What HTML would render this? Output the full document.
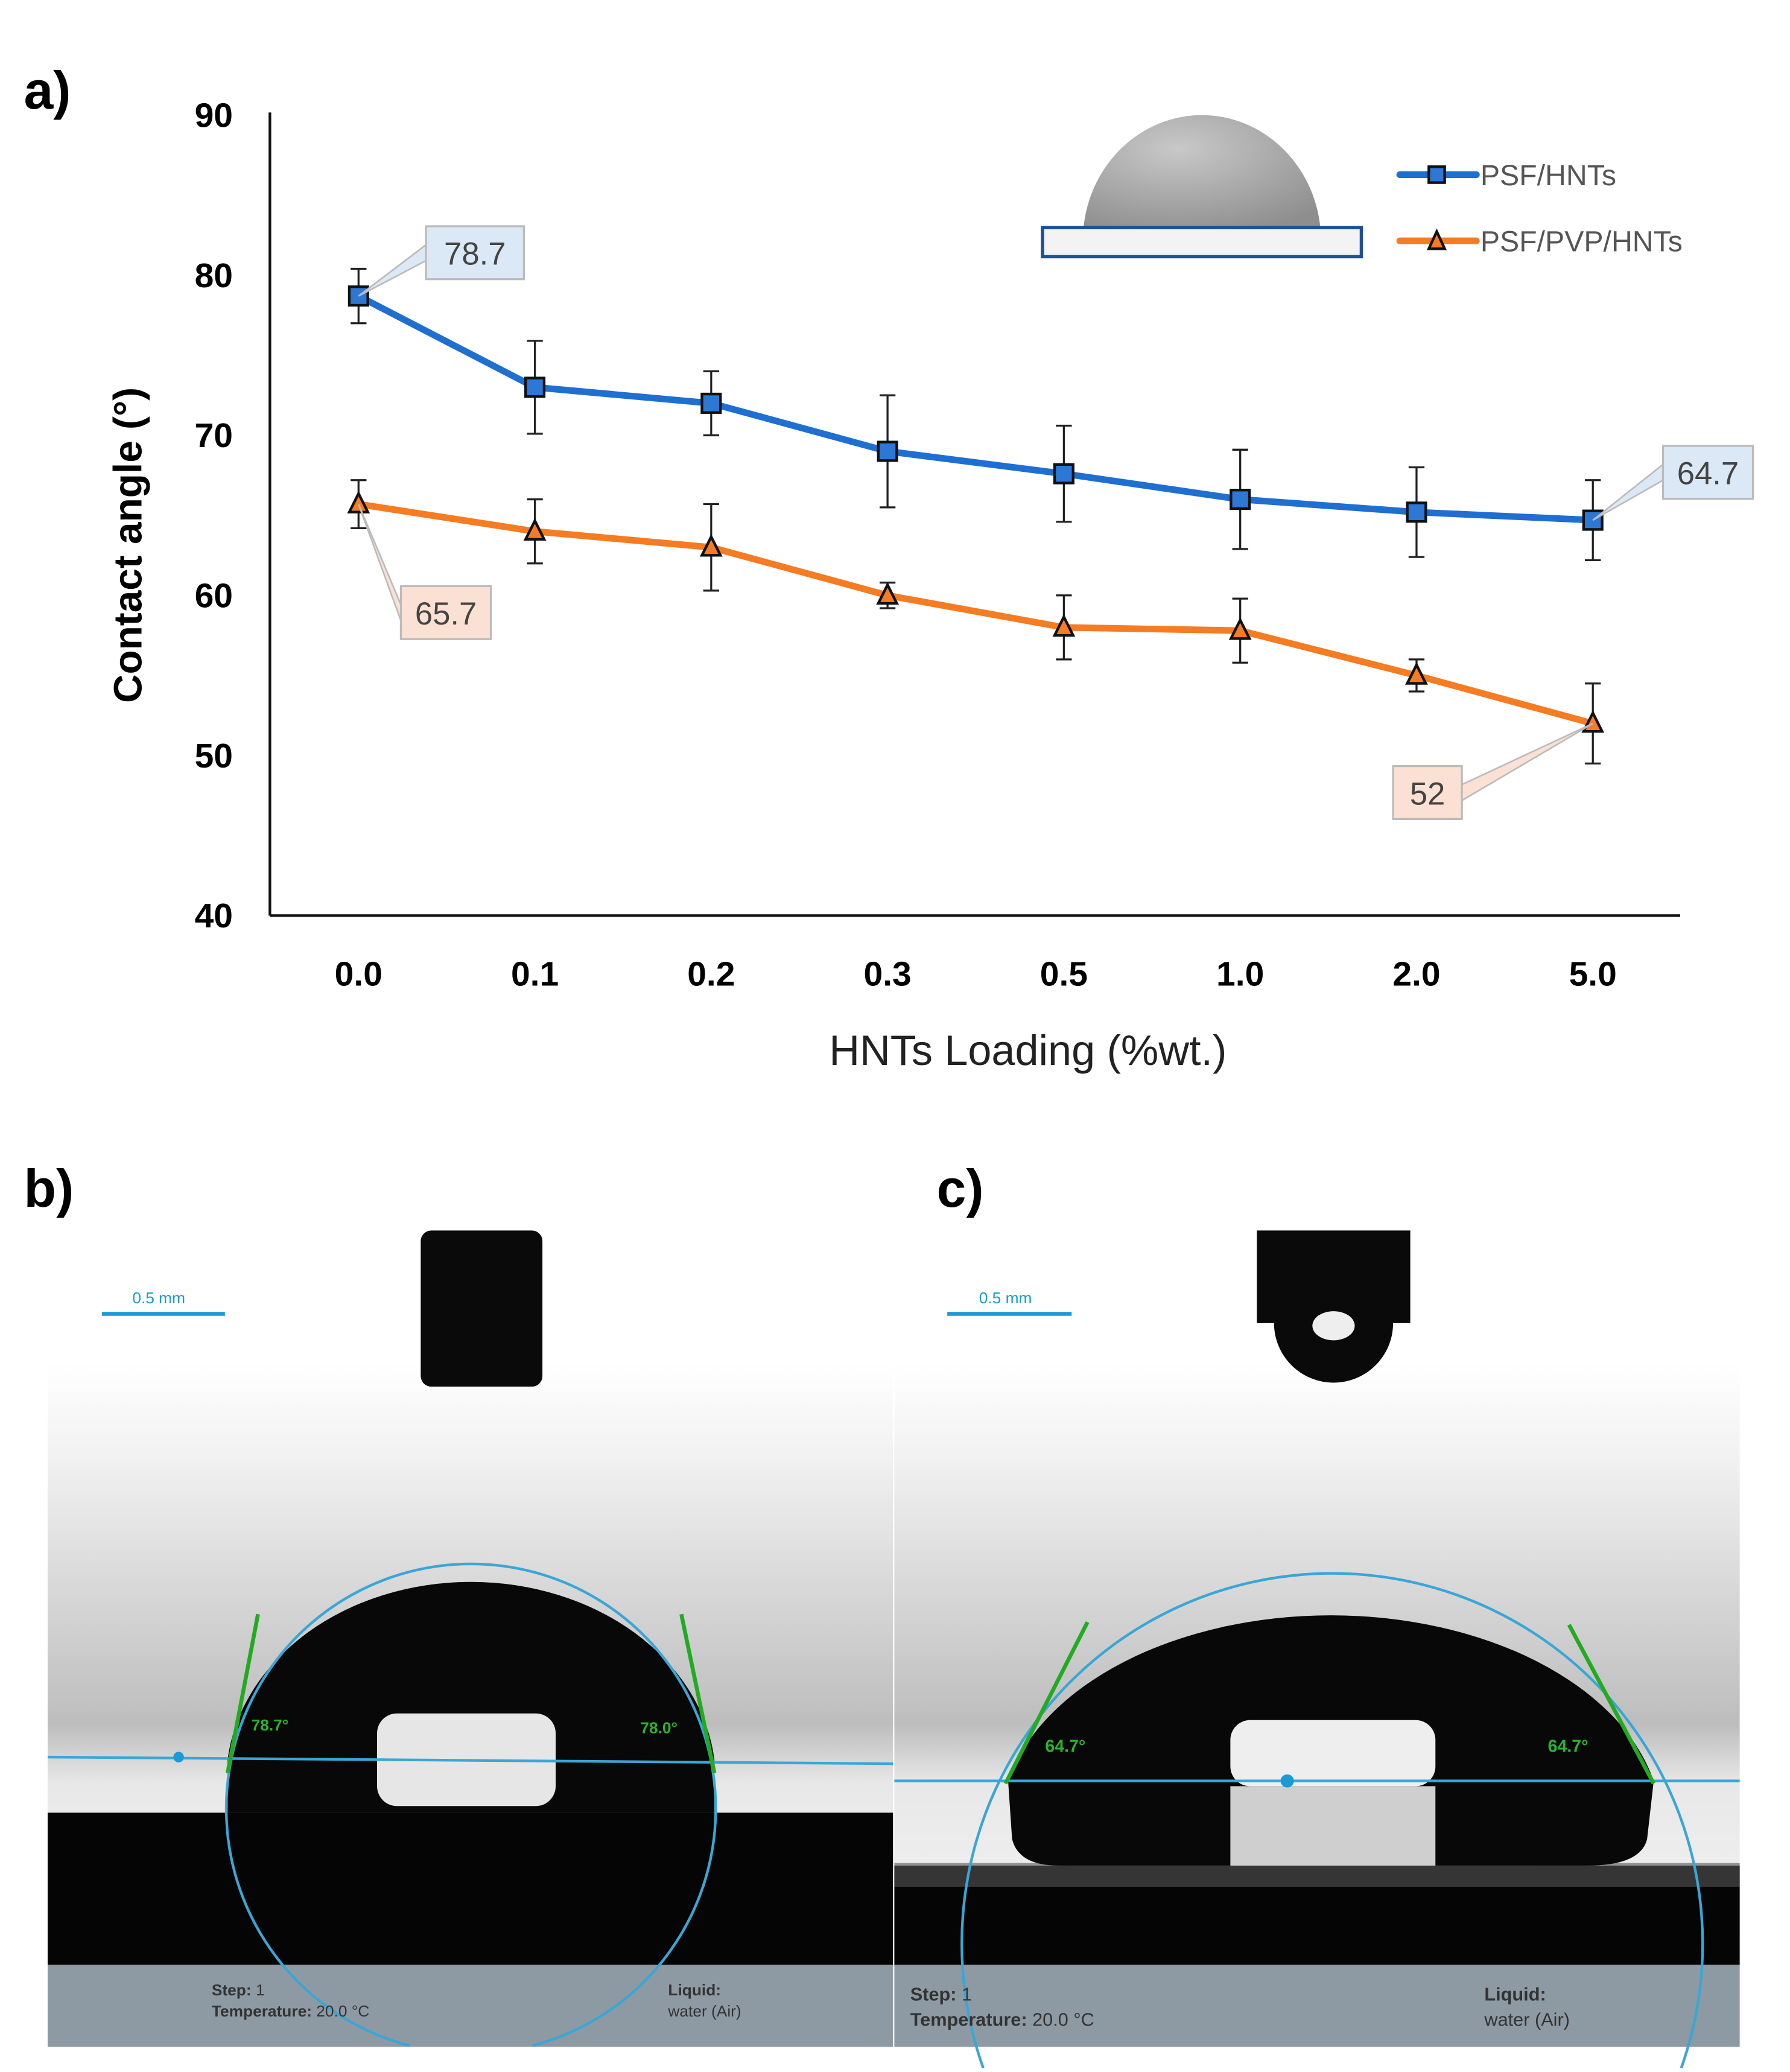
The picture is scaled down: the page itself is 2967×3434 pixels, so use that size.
<!DOCTYPE html>
<html><head><meta charset="utf-8">
<style>
html,body{margin:0;padding:0;background:#fff;overflow:hidden;width:2967px;height:3434px}
svg{display:block}
text{font-family:"Liberation Sans","DejaVu Sans",sans-serif}
</style></head>
<body>
<svg id="fig" width="2967" height="3434" viewBox="0 0 1353 1566" xmlns="http://www.w3.org/2000/svg" overflow="hidden">
<defs>
<linearGradient id="bgB" x1="0" y1="0" x2="0" y2="1">
<stop offset="0" stop-color="#fff"/><stop offset="0.15" stop-color="#f2f2f2"/><stop offset="0.45" stop-color="#cfcfcf"/><stop offset="0.6" stop-color="#bdbdbd"/><stop offset="0.7" stop-color="#e8e8e8"/><stop offset="1" stop-color="#f4f4f4"/>
</linearGradient>
<radialGradient id="drop" cx="0.4" cy="0.3" r="0.8"><stop offset="0" stop-color="#c8c8c8"/><stop offset="1" stop-color="#8e8e8e"/></radialGradient>
</defs>
<g>
<text x="18" y="82" font-size="40" font-weight="bold">a)</text>
<g id="axes"></g>
<g>
<path d="M819 172 A90 95 0 0 1 998 172 Z" fill="url(#drop)"/>
<rect x="788" y="172" width="241" height="22" fill="#f3f3f3" stroke="#1f4e99" stroke-width="2.5"/>
</g>
<g>
<g>
<line x1="1058" y1="132" x2="1116" y2="132" stroke="#1f6fd0" stroke-width="5" stroke-linecap="round"/>
<rect x="1080" y="126" width="12" height="12" fill="#2c78d4" stroke="#111" stroke-width="2"/>
<text x="1119" y="140" font-size="22" fill="#555">PSF/HNTs</text>
</g>
<g>
<line x1="1058" y1="182" x2="1116" y2="182" stroke="#f57c22" stroke-width="5" stroke-linecap="round"/>
<path d="M1086 175 L1092 188 L1080 188 Z" fill="#f57c22" stroke="#111" stroke-width="2"/>
<text x="1119" y="190" font-size="22" fill="#555">PSF/PVP/HNTs</text>
</g>
</g>
</g>
<text x="18" y="912" font-size="40" font-weight="bold">b)</text>
<g>
<rect x="36" y="1030" width="639" height="455" fill="url(#bgB)"/>
<rect x="36" y="1370" width="639" height="115" fill="#050505"/>
<rect x="36" y="1485" width="639" height="62" fill="#8e9aa3"/>
<rect x="318" y="930" width="92" height="118" rx="8" fill="#0a0a0a"/>
<path d="M172 1370 L172 1330 A185 150 0 0 1 540 1330 L540 1370 Z" fill="#080808"/>
<rect x="285" y="1295" width="135" height="70" rx="15" fill="#e6e6e6"/>
<path d="M309.3 1546 A185 185 0 1 1 402.7 1546" fill="none" stroke="#3aa6d6" stroke-width="2"/>
<line x1="36" y1="1328" x2="675" y2="1333" stroke="#3aa6d6" stroke-width="2"/>
<circle cx="135" cy="1328" r="4" fill="#1a9ad6"/>
<line x1="172" y1="1340" x2="195" y2="1220" stroke="#22aa22" stroke-width="3"/>
<line x1="540" y1="1340" x2="515" y2="1220" stroke="#22aa22" stroke-width="3"/>
<text x="190" y="1308" font-size="12" fill="#2bb52b" font-weight="bold">78.7°</text>
<text x="484" y="1310" font-size="12" fill="#2bb52b" font-weight="bold">78.0°</text>
<line x1="77" y1="993" x2="170" y2="993" stroke="#1a9ad6" stroke-width="3"/>
<text x="100" y="985" font-size="12" fill="#1a9ad6">0.5 mm</text>
<text x="160" y="1508" font-size="12" fill="#333" font-weight="bold">Step: <tspan font-weight="normal">1</tspan></text>
<text x="160" y="1524" font-size="12" fill="#333" font-weight="bold">Temperature: <tspan font-weight="normal">20.0 °C</tspan></text>
<text x="505" y="1508" font-size="12" fill="#333" font-weight="bold">Liquid:</text>
<text x="505" y="1524" font-size="12" fill="#333">water (Air)</text>
</g>
<text x="708" y="912" font-size="40" font-weight="bold">c)</text>
<g>
<rect x="676" y="1030" width="639" height="455" fill="url(#bgB)"/>
<rect x="676" y="1410" width="639" height="75" fill="#050505"/>
<rect x="676" y="1485" width="639" height="62" fill="#8e9aa3"/>
<rect x="676" y="1408" width="639" height="18" fill="#555" opacity="0.6"/>
<rect x="950" y="930" width="116" height="70" fill="#0a0a0a"/>
<circle cx="1008" cy="1000" r="45" fill="#0a0a0a"/>
<ellipse cx="1008" cy="1002" rx="16" ry="11" fill="#eee"/>
<path d="M762 1346 A250 160 0 0 1 1250 1346 L1245 1390 Q1240 1410 1200 1410 L800 1410 Q770 1410 765 1390 Z" fill="#080808"/>
<rect x="930" y="1300" width="155" height="50" rx="15" fill="#eeeeee"/>
<rect x="930" y="1350" width="155" height="60" fill="#cfcfcf"/>
<path d="M743.2 1563 A280 280 0 1 1 1270.8 1563" fill="none" stroke="#3aa6d6" stroke-width="2"/>
<line x1="676" y1="1346" x2="1315" y2="1346" stroke="#3aa6d6" stroke-width="2"/>
<circle cx="973" cy="1346" r="5" fill="#1a9ad6"/>
<line x1="760" y1="1348" x2="822" y2="1226" stroke="#22aa22" stroke-width="3"/>
<line x1="1250" y1="1348" x2="1186" y2="1228" stroke="#22aa22" stroke-width="3"/>
<text x="790" y="1324" font-size="13" fill="#2bb52b" font-weight="bold">64.7°</text>
<text x="1170" y="1324" font-size="13" fill="#2bb52b" font-weight="bold">64.7°</text>
<line x1="716" y1="993" x2="810" y2="993" stroke="#1a9ad6" stroke-width="3"/>
<text x="740" y="985" font-size="12" fill="#1a9ad6">0.5 mm</text>
<text x="688" y="1512" font-size="14" fill="#333" font-weight="bold">Step: <tspan font-weight="normal">1</tspan></text>
<text x="688" y="1531" font-size="14" fill="#333" font-weight="bold">Temperature: <tspan font-weight="normal">20.0 °C</tspan></text>
<text x="1122" y="1512" font-size="14" fill="#333" font-weight="bold">Liquid:</text>
<text x="1122" y="1531" font-size="14" fill="#333">water (Air)</text>
</g>
</svg>
<script>
const categories = ["0.0","0.1","0.2","0.3","0.5","1.0","2.0","5.0"];
const psfHnts = [78.7,73,72,69,67.6,66,65.2,64.7];
const psfHntsErr = [1.7,2.9,2,3.5,3,3.1,2.8,2.5];
const psfPvpHnts = [65.7,64,63,60,58,57.8,55,52];
const psfPvpHntsErr = [1.5,2,2.7,0.8,2,2,1,2.5];
const yTicks = [40,50,60,70,80,90];

const NS="http://www.w3.org/2000/svg";
const g=document.getElementById('axes');
const X0=204,X1=1270,Y0=692,Y1=87;
const xPos=i=>271+i*(1204-271)/(categories.length-1);
const yPos=v=>Y0-(v-40)/(90-40)*(Y0-Y1);
function mk(tag,attrs,parent){const e=document.createElementNS(NS,tag);for(const k in attrs)e.setAttribute(k,attrs[k]);(parent||g).appendChild(e);return e;}
let a=mk('line',{x1:X0,y1:Y1-2,x2:X0,y2:Y0,stroke:'#111','stroke-width':2});


a=mk('line',{x1:X0,y1:Y0,x2:X1,y2:Y0,stroke:'#111','stroke-width':2});


yTicks.forEach(v=>{const t=mk('text',{x:176,y:yPos(v)+9,'font-size':26,'font-weight':'bold','text-anchor':'end'});t.textContent=v;

});
categories.forEach((c,i)=>{const t=mk('text',{x:xPos(i),y:745,'font-size':26,'font-weight':'bold','text-anchor':'middle'});t.textContent=c;

});
let t=mk('text',{x:777,y:805,'font-size':32,'text-anchor':'middle',fill:'#222'});t.textContent='HNTs Loading (%wt.)';


t=mk('text',{x:0,y:0,'font-size':30,'font-weight':'bold','text-anchor':'middle',transform:'translate(107,412) rotate(-90)'});t.textContent='Contact angle (°)';



function series(vals,errs,color,shape,name){
  const sg=mk('g',{});
  
  
  vals.forEach((v,i)=>{
    const hi=yPos(v+errs[i]),lo=yPos(v-errs[i]),x=xPos(i);
    mk('line',{x1:x,y1:hi,x2:x,y2:lo,stroke:'#222','stroke-width':1.5},sg);
    mk('line',{x1:x-6,y1:hi,x2:x+6,y2:hi,stroke:'#222','stroke-width':1.5},sg);
    mk('line',{x1:x-6,y1:lo,x2:x+6,y2:lo,stroke:'#222','stroke-width':1.5},sg);
  });
  mk('polyline',{points:vals.map((v,i)=>xPos(i)+','+yPos(v)).join(' '),fill:'none',stroke:color,'stroke-width':5,'stroke-linejoin':'round'},sg);
  vals.forEach((v,i)=>{
    const x=xPos(i),y=yPos(v);let m;
    if(shape==='sq')m=mk('rect',{x:x-7,y:y-7,width:14,height:14,fill:'#2c78d4',stroke:'#111','stroke-width':2},sg);
    else m=mk('path',{d:`M${x} ${y-8} L${x+7} ${y+6} L${x-7} ${y+6} Z`,fill:'#f57c22',stroke:'#111','stroke-width':2},sg);
    
    
  });
}
series(psfHnts,psfHntsErr,'#1f6fd0','sq','series-psf-hnts');
series(psfPvpHnts,psfPvpHntsErr,'#f57c22','tri','series-psf-pvp-hnts');

function callout(i,v,bx,by,w,fill,stroke,label){
  const cg=mk('g',{});
  
  
  const x=xPos(i),y=yPos(v);
  mk('path',{d:`M${x} ${y} L${bx+(bx>x?0:w)} ${by+14} L${bx+(bx>x?0:w)} ${by+26} Z`,fill:fill,stroke:stroke,'stroke-width':1.2},cg);
  mk('rect',{x:bx,y:by,width:w,height:40,fill:fill,stroke:stroke,'stroke-width':1.5},cg);
  const tt=mk('text',{x:bx+w/2,y:by+29,'font-size':24,'text-anchor':'middle',fill:'#444'},cg);tt.textContent=label;
}
callout(0,psfHnts[0],322,171,74,'#dbe9f6','#bbb',String(psfHnts[0]));
callout(7,psfHnts[7],1257,337,68,'#dbe9f6','#bbb',String(psfHnts[7]));
callout(0,psfPvpHnts[0],303,443,68,'#fbe1d3','#bbb',String(psfPvpHnts[0]));
callout(7,psfPvpHnts[7],1053,579,52,'#fbe1d3','#bbb',String(psfPvpHnts[7]));
</script>
</body></html>
